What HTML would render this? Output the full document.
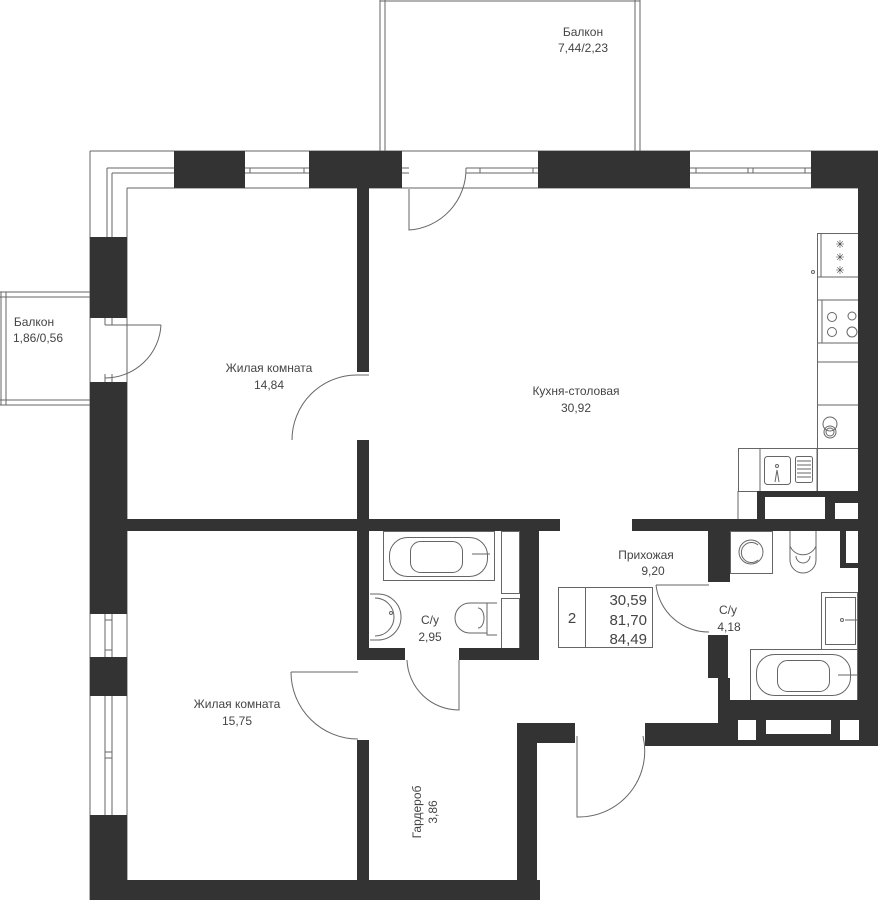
<!DOCTYPE html>
<html><head><meta charset="utf-8"><style>
html,body{margin:0;padding:0;background:#fff;}
svg{display:block;}
text{font-family:"Liberation Sans",sans-serif;fill:#444;font-size:12px;text-anchor:middle;}
</style></head><body>
<svg width="878" height="900" viewBox="0 0 878 900" xmlns="http://www.w3.org/2000/svg">
<g fill="none" stroke="#666" stroke-width="1">
<!-- top balcony -->
<path d="M380,0 V151 M385,0 V151 M635,0 V151 M640,0 V151 M380,1 H640"/>
<!-- left balcony -->
<path d="M0,292 H90 M0,297 H90 M0,400 H90 M0,405 H90 M1,292 V405 M6,292 V405"/>
<!-- outer frame top-left -->
<path d="M90,151 H878 M90,151 V237 M127,188 H402 M107,168 V237 M112,173 V237 M107,168 H174 M112,173 H174"/>
<path d="M245,168 H309 M245,173 H309 M250,168 V173 M304,168 V173"/>
<path d="M402,168 H409 M402,173 H409 M466,168 H538 M466,173 H538 M480,168 V173 M533,168 V173"/>
<path d="M690,168 H811 M690,173 H811 M696,168 V173 M748,168 V173 M753,168 V173 M805,168 V173 M402,188 H878"/>
<!-- left wall windows & door -->
<path d="M90,237 V900 M127,188 V900"/>
<path d="M105,318 V325 M112,318 V325 M105,325 H161 M105,374 V382 M112,374 V382"/>
<path d="M105,614 V657 M112,614 V657 M105,696 V815 M112,696 V815 M105,620 H112 M105,650 H112 M105,752 H112 M105,758 H112"/>
<!-- doors -->
<path d="M409,189 V230 A61,61 0 0 0 466,168"/>
<path d="M161,325 A56,56 0 0 1 105,378"/>
<path d="M357,375 A65,65 0 0 0 292,440 M357,375 H369"/>
<path d="M291,672 H358 M291,672 A67,67 0 0 0 358,739"/>
<path d="M407,660 A52,52 0 0 0 459,710 V660"/>
<path d="M656,585 H709 M656,585 A53,53 0 0 0 709,632"/>
<path d="M577,736 V817 A66,66 0 0 0 643,736"/>
<!-- info box -->
<rect x="558.5" y="587.5" width="94" height="60"/>
<path d="M585.5,587 V647"/>
<!-- kitchen -->
<rect x="817.5" y="233.5" width="41" height="215"/>
<path d="M817,277 H858 M817,300 H858 M817,343 H858 M817,362 H858 M817,405 H858 M821,233 V277 M822,300 V343"/>
<rect x="738.5" y="448.5" width="79" height="43"/>
<path d="M738,491 V519 M760,448 V491 M817,448 V491"/>
<rect x="764.5" y="456.5" width="26" height="28" rx="3"/>
<rect x="795.5" y="456.5" width="17" height="26" rx="2"/>
<path d="M797,461 H811 M797,465 H811 M797,469 H811 M797,473 H811 M797,477 H811"/>
<circle cx="777" cy="466" r="1.5"/><path d="M775,482 L777,470 L779,482"/>
<circle cx="832" cy="317" r="4.5"/><circle cx="852" cy="316" r="4"/><circle cx="832" cy="332" r="4.5"/><circle cx="852" cy="332" r="5"/>
<circle cx="830" cy="424" r="7"/><circle cx="830" cy="432" r="6"/><circle cx="830" cy="432" r="4"/>
<circle cx="813" cy="272" r="1.5"/>
<!-- bathroom 1 -->
<rect x="383.5" y="531.5" width="111" height="49"/>
<rect x="389.5" y="537.5" width="98" height="39" rx="18"/>
<rect x="410.5" y="541.5" width="52" height="31" rx="10"/>
<path d="M472,554 H490"/>
<path d="M370,594 H378 A23,23 0 0 1 378,640 H370 M375,598 A18,18 0 0 1 375,636"/>
<circle cx="391" cy="613" r="1.5"/>
<path d="M497,603 H487 V635 H497 M487,603 H470 A15,15 0 0 0 470,633 H487"/>
<path d="M478,608 A6,10 0 0 1 478,628"/>
<rect x="501.5" y="531.5" width="18" height="62"/>
<rect x="501.5" y="598.5" width="18" height="50"/>
<!-- bathroom 2 -->
<rect x="730.5" y="531.5" width="42" height="42"/>
<circle cx="751" cy="552" r="12"/><path d="M758,545 A10,10 0 1 0 758,560"/>
<path d="M790,531 V546 A14,14 0 0 0 816,546 V531 M790,546 V560 A13,13 0 0 0 816,560 V546"/>
<path d="M796,556 A7,7 0 0 0 810,556"/>
<rect x="821.5" y="592.5" width="36" height="57"/>
<rect x="825.5" y="597.5" width="30" height="47"/>
<circle cx="842" cy="620" r="1.5"/><path d="M845,620 H857"/>
<rect x="750.5" y="649.5" width="107" height="51"/>
<rect x="756.5" y="654.5" width="94" height="41" rx="18"/>
<rect x="777.5" y="660.5" width="52" height="31" rx="10"/>
<path d="M838,675 H857"/>
<rect x="846.5" y="531.5" width="12" height="32"/>
</g>
<g fill="#333">
<!-- top wall -->
<rect x="174" y="151" width="71" height="37"/>
<rect x="309" y="151" width="93" height="37"/>
<rect x="538" y="151" width="152" height="37"/>
<rect x="811" y="151" width="67" height="37"/>
<rect x="858" y="151" width="20" height="595"/>
<!-- left wall -->
<rect x="90" y="237" width="37" height="81"/>
<rect x="90" y="382" width="37" height="232"/>
<rect x="90" y="657" width="37" height="39"/>
<rect x="90" y="815" width="37" height="85"/>
<!-- bottom -->
<rect x="90" y="880" width="450" height="20"/>
<rect x="517" y="723" width="20" height="177"/>
<rect x="517" y="723" width="58" height="20"/>
<rect x="645" y="723" width="233" height="23"/>
<rect x="718" y="700" width="160" height="23"/>
<!-- interior -->
<rect x="357" y="188" width="12" height="184"/>
<rect x="357" y="440" width="12" height="220"/>
<rect x="127" y="519" width="433" height="12"/>
<rect x="632" y="519" width="246" height="12"/>
<rect x="520" y="531" width="19" height="129"/>
<rect x="357" y="648" width="48" height="12"/>
<rect x="459" y="648" width="80" height="12"/>
<rect x="357" y="740" width="12" height="140"/>
<rect x="757" y="491" width="101" height="28"/>
<rect x="708" y="531" width="22" height="51"/>
<rect x="708" y="635" width="20" height="43"/>
<rect x="718" y="678" width="12" height="22"/>
<rect x="840" y="531" width="18" height="37"/>
</g>
<g fill="#fff">
<rect x="765" y="497" width="60" height="22"/>
<rect x="835" y="503" width="23" height="16"/>
<rect x="846" y="531" width="12" height="32"/>
<rect x="738" y="720" width="18" height="20"/>
<rect x="766" y="720" width="65" height="14"/>
<rect x="840" y="720" width="19" height="20"/>
</g>
<text x="583" y="36">Балкон</text>
<text x="583" y="52">7,44/2,23</text>
<text x="34" y="326">Балкон</text>
<text x="38" y="342">1,86/0,56</text>
<text x="269" y="372">Жилая комната</text>
<text x="269" y="389">14,84</text>
<text x="576" y="395">Кухня-столовая</text>
<text x="576" y="412">30,92</text>
<text x="646" y="559">Прихожая</text>
<text x="653" y="575">9,20</text>
<text x="430" y="624">С/у</text>
<text x="430" y="641">2,95</text>
<text x="728" y="614">С/у</text>
<text x="729" y="631">4,18</text>
<text x="237" y="708">Жилая комната</text>
<text x="237" y="725">15,75</text>
<text transform="translate(421,812) rotate(-90)">Гардероб</text>
<text transform="translate(437,812) rotate(-90)">3,86</text>
<text x="572" y="623" style="font-size:15px">2</text>
<text x="647" y="605" style="font-size:15px;text-anchor:end">30,59</text>
<text x="647" y="625" style="font-size:15px;text-anchor:end">81,70</text>
<text x="647" y="644" style="font-size:15px;text-anchor:end">84,49</text>
<text x="840" y="248" style="font-size:11px">✳</text>
<text x="840" y="261" style="font-size:11px">✳</text>
<text x="840" y="274" style="font-size:11px">✳</text>
</svg>
</body></html>
